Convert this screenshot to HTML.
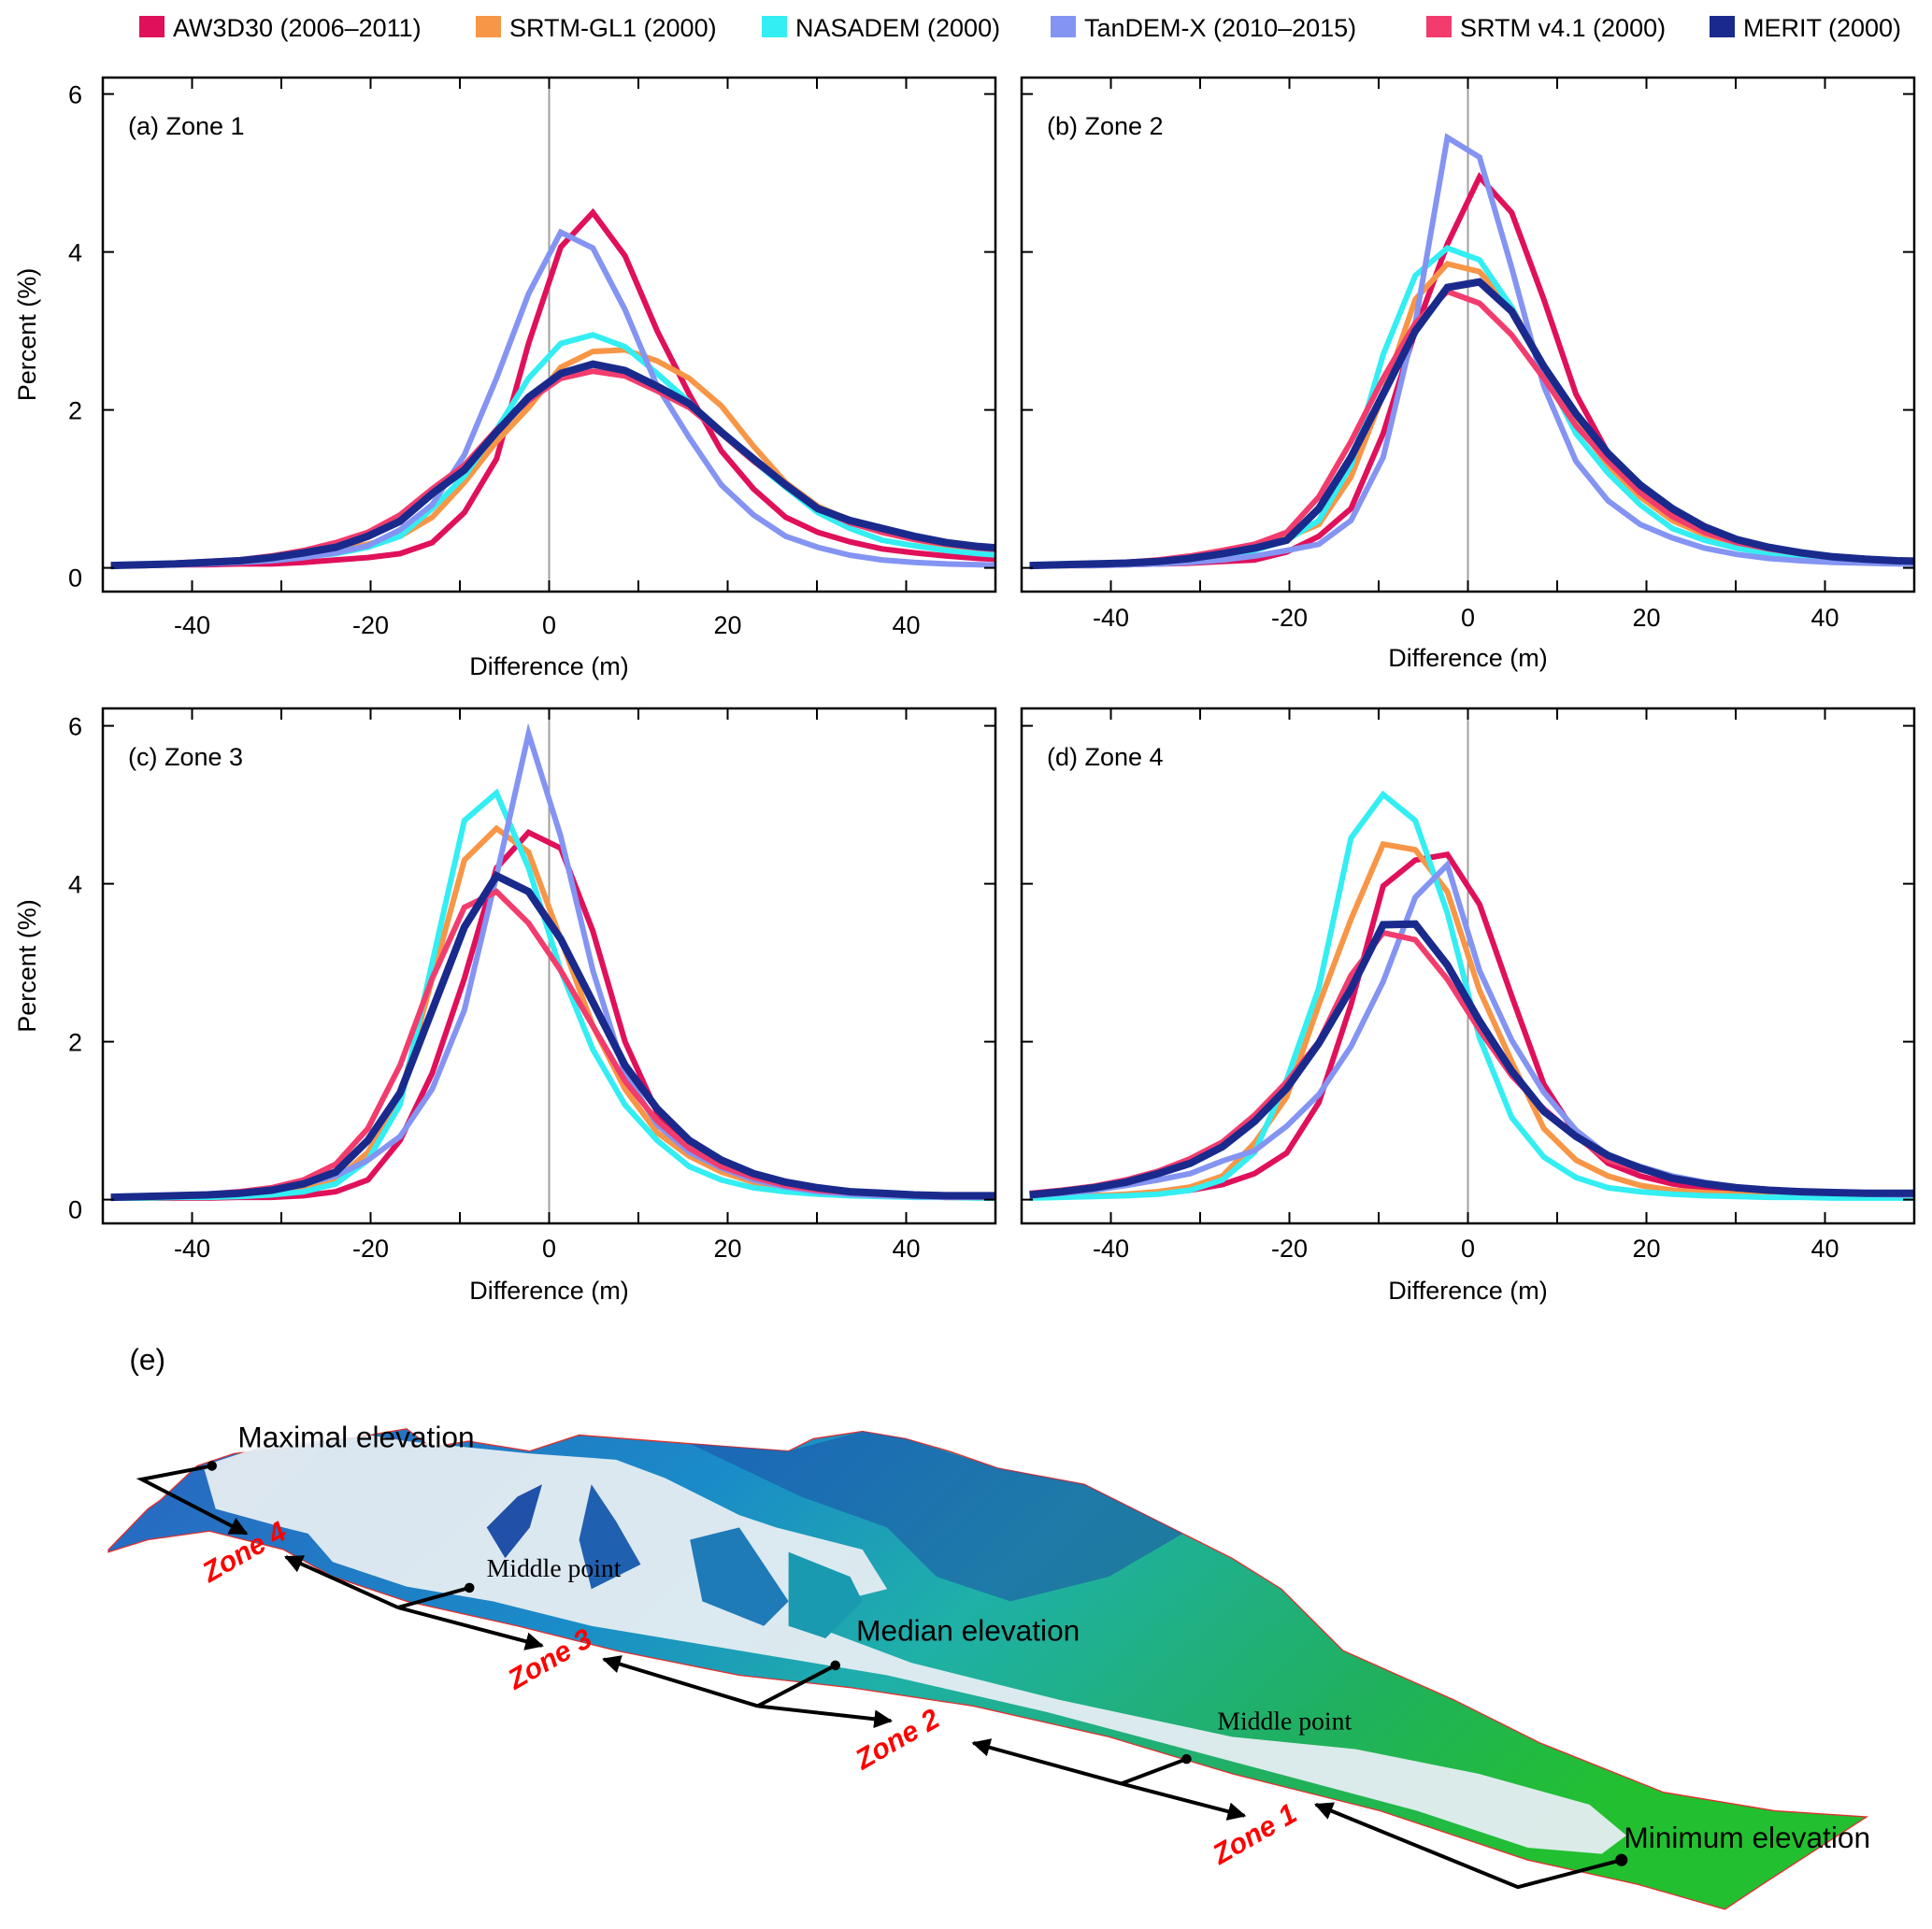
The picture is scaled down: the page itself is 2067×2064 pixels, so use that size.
<!DOCTYPE html>
<html><head><meta charset="utf-8"><style>
html,body{margin:0;padding:0;background:#fff}
svg{display:block;font-family:"Liberation Sans",sans-serif}
</style></head><body>
<svg id="fig" width="2067" height="2064" viewBox="0 0 2067 2064" xmlns="http://www.w3.org/2000/svg">
<g id="legend"></g>
<g id="charts"></g>
<g id="terrain" transform="scale(1.3182,1.318)">
  <defs>
    <linearGradient id="tg" x1="0" y1="0" x2="1" y2="0.3">
      <stop offset="0" stop-color="#2a64c0"/>
      <stop offset="0.35" stop-color="#1a8cc8"/>
      <stop offset="0.55" stop-color="#1fb0a8"/>
      <stop offset="0.8" stop-color="#20b060"/>
      <stop offset="1" stop-color="#22c030"/>
    </linearGradient>
    <marker id="ah" viewBox="0 0 10 10" refX="9" refY="5" markerWidth="5" markerHeight="5" orient="auto-start-reverse">
      <path d="M0,0 L10,5 L0,10 z" fill="#000"/>
    </marker>
  </defs>
  <text x="105" y="1112" font-size="24">(e)</text>
  <polygon fill="url(#tg)" stroke="#e03030" stroke-width="1" points="88,1258 120,1225 130,1218 160,1190 190,1180 240,1175 300,1165 330,1160 350,1175 380,1170 430,1178 470,1165 560,1172 640,1178 660,1168 700,1162 735,1168 770,1178 810,1192 880,1205 960,1245 1000,1265 1040,1290 1090,1340 1180,1380 1250,1415 1350,1455 1440,1470 1515,1475 1430,1530 1400,1550 1330,1530 1240,1510 1120,1470 1000,1440 900,1410 790,1385 690,1370 600,1360 500,1340 420,1320 330,1300 270,1280 230,1258 170,1243 120,1250 88,1260"/>
  <polygon fill="#1e4fa8" opacity="0.55" points="560,1172 640,1178 700,1162 735,1168 810,1192 880,1205 960,1245 900,1280 820,1300 760,1280 720,1240 650,1215"/>
  <polygon fill="#e6edf2" opacity="0.95" points="165,1190 210,1175 300,1165 330,1170 430,1180 500,1185 540,1200 600,1230 630,1240 700,1258 720,1290 680,1300 660,1320 740,1350 860,1380 1000,1410 1100,1420 1200,1440 1290,1465 1320,1490 1300,1505 1240,1500 1150,1470 1000,1430 850,1390 720,1360 600,1340 480,1320 400,1300 330,1288 270,1268 250,1245 230,1240 175,1225"/>
  <polygon fill="#2050a8" points="395,1240 420,1215 440,1205 430,1240 410,1265"/>
  <polygon fill="#2060b0" points="480,1205 500,1235 520,1270 480,1290 470,1250"/>
  <polygon fill="#1f7ab8" points="560,1250 600,1240 640,1300 620,1320 570,1300"/>
  <polygon fill="#1a9ab0" points="640,1260 690,1280 700,1300 670,1330 640,1320"/>
  <g stroke="#000" stroke-width="3" fill="none">
    <polyline points="172,1190 115,1201 200,1245" marker-end="url(#ah)"/>
    <line x1="323" y1="1305" x2="232" y2="1264" marker-end="url(#ah)"/><line x1="323" y1="1305" x2="440" y2="1336" marker-end="url(#ah)"/><line x1="323" y1="1305" x2="381" y2="1289"/>
    <line x1="615" y1="1385" x2="490" y2="1347" marker-end="url(#ah)"/><line x1="615" y1="1385" x2="723" y2="1397" marker-end="url(#ah)"/><line x1="615" y1="1385" x2="678" y2="1352"/>
    <line x1="910" y1="1448" x2="790" y2="1415" marker-end="url(#ah)"/><line x1="910" y1="1448" x2="1010" y2="1474" marker-end="url(#ah)"/><line x1="910" y1="1448" x2="963" y2="1428"/>
    <polyline points="1316,1510 1232,1532 1068,1465" marker-end="url(#ah)"/>
  </g>
  <g fill="#000">
    <circle cx="172" cy="1190" r="4"/><circle cx="381" cy="1289" r="4"/><circle cx="678" cy="1352" r="4"/><circle cx="963" cy="1428" r="4"/><circle cx="1316" cy="1510" r="5"/>
  </g>
  <text x="193" y="1175" font-size="24">Maximal elevation</text>
  <text x="395" y="1280" font-size="21" font-family="Liberation Serif,serif">Middle point</text>
  <text x="695" y="1332" font-size="24">Median elevation</text>
  <text x="988" y="1404" font-size="21" font-family="Liberation Serif,serif">Middle point</text>
  <text x="1318" y="1500" font-size="24">Minimum elevation</text>
  <g fill="#ff0000" font-weight="bold" font-style="italic" font-size="23">
    <text transform="translate(170,1285) rotate(-30)">Zone 4</text>
    <text transform="translate(418,1372) rotate(-30)">Zone 3</text>
    <text transform="translate(700,1437) rotate(-30)">Zone 2</text>
    <text transform="translate(990,1514) rotate(-30)">Zone 1</text>
  </g>
</g>
</svg>
<script>
const NS="http://www.w3.org/2000/svg";
const diffValues=[-49.1,-45.5,-41.9,-38.3,-34.7,-31.1,-27.5,-23.9,-20.3,-16.7,-13.1,-9.5,-5.9,-2.3,1.3,4.9,8.5,12.1,15.7,19.3,22.9,26.5,30.1,33.7,37.3,40.9,44.5,48.1,51.7];
const seriesNames=["AW3D30 (2006–2011)","SRTM-GL1 (2000)","NASADEM (2000)","TanDEM-X (2010–2015)","SRTM v4.1 (2000)","MERIT (2000)"];
const seriesKeys=["aw3d30","srtm-gl1","nasadem","tandem-x","srtm-v41","merit"];
const seriesColors=["#e0105a","#f79646","#33eef2","#8494f2","#f23c6e","#1a2a8c"];
const xTickLabels=[-40,-20,0,20,40];
const yTickLabels=[0,2,4,6];
const zoneTitles=["(a) Zone 1","(b) Zone 2","(c) Zone 3","(d) Zone 4"];
const zone1AW=[0.03,0.03,0.04,0.04,0.05,0.05,0.07,0.1,0.13,0.18,0.32,0.7,1.38,2.84,4.06,4.5,3.95,3.0,2.2,1.48,1.0,0.64,0.45,0.33,0.24,0.19,0.15,0.12,0.1];
const zone1GL1=[0.03,0.04,0.05,0.06,0.08,0.11,0.16,0.22,0.3,0.4,0.64,1.08,1.6,2.03,2.54,2.74,2.76,2.62,2.4,2.05,1.54,1.08,0.78,0.6,0.45,0.36,0.28,0.22,0.18];
const zone1NAS=[0.03,0.04,0.05,0.06,0.08,0.1,0.14,0.18,0.26,0.4,0.75,1.16,1.75,2.4,2.84,2.95,2.8,2.46,2.1,1.7,1.35,1.02,0.7,0.5,0.35,0.28,0.22,0.18,0.15];
const zone1TDX=[0.03,0.03,0.04,0.05,0.07,0.09,0.13,0.19,0.28,0.48,0.8,1.43,2.4,3.47,4.25,4.05,3.27,2.3,1.65,1.05,0.67,0.4,0.26,0.16,0.1,0.07,0.05,0.04,0.03];
const zone1V41=[0.03,0.04,0.06,0.08,0.1,0.15,0.22,0.32,0.45,0.67,1.0,1.3,1.75,2.12,2.4,2.49,2.43,2.24,2.03,1.7,1.35,1.05,0.75,0.57,0.45,0.36,0.3,0.25,0.22];
const zone1MER=[0.03,0.04,0.05,0.07,0.09,0.13,0.19,0.26,0.4,0.59,0.94,1.24,1.72,2.16,2.46,2.58,2.5,2.3,2.08,1.72,1.38,1.05,0.75,0.6,0.5,0.4,0.32,0.27,0.24];
const zone2AW=[0.03,0.03,0.03,0.04,0.05,0.06,0.08,0.1,0.2,0.4,0.75,1.7,3.0,4.1,4.95,4.5,3.4,2.2,1.45,1.0,0.7,0.5,0.35,0.25,0.18,0.13,0.1,0.08,0.07];
const zone2GL1=[0.03,0.03,0.04,0.05,0.07,0.1,0.15,0.25,0.38,0.55,1.15,2.2,3.4,3.85,3.75,3.3,2.55,1.85,1.3,0.9,0.6,0.42,0.3,0.22,0.16,0.12,0.1,0.08,0.07];
const zone2NAS=[0.03,0.03,0.04,0.05,0.06,0.09,0.13,0.22,0.35,0.6,1.3,2.7,3.7,4.05,3.9,3.3,2.5,1.7,1.2,0.8,0.5,0.35,0.25,0.18,0.13,0.1,0.08,0.07,0.06];
const zone2TDX=[0.03,0.03,0.03,0.04,0.05,0.07,0.1,0.15,0.22,0.3,0.6,1.4,3.1,5.45,5.2,3.8,2.3,1.35,0.85,0.55,0.38,0.25,0.17,0.12,0.09,0.07,0.06,0.05,0.05];
const zone2V41=[0.03,0.04,0.05,0.07,0.1,0.15,0.22,0.3,0.45,0.9,1.6,2.4,3.1,3.5,3.35,2.95,2.4,1.8,1.35,0.95,0.65,0.45,0.32,0.24,0.18,0.14,0.11,0.09,0.08];
const zone2MER=[0.03,0.04,0.05,0.06,0.08,0.12,0.18,0.25,0.35,0.75,1.4,2.2,3.0,3.55,3.62,3.25,2.55,1.95,1.45,1.05,0.75,0.52,0.36,0.26,0.19,0.14,0.11,0.09,0.08];
const zone3AW=[0.02,0.02,0.02,0.02,0.03,0.03,0.05,0.1,0.25,0.75,1.6,2.8,4.2,4.65,4.45,3.4,2.0,1.1,0.65,0.4,0.25,0.15,0.1,0.07,0.05,0.04,0.03,0.03,0.03];
const zone3GL1=[0.02,0.02,0.03,0.03,0.05,0.08,0.14,0.25,0.6,1.3,2.8,4.3,4.7,4.4,3.3,2.2,1.4,0.85,0.55,0.35,0.22,0.14,0.1,0.07,0.05,0.04,0.03,0.03,0.03];
const zone3NAS=[0.02,0.02,0.03,0.03,0.04,0.06,0.1,0.2,0.5,1.2,3.0,4.8,5.15,4.2,2.9,1.9,1.2,0.75,0.42,0.25,0.15,0.1,0.07,0.05,0.04,0.03,0.03,0.02,0.02];
const zone3TDX=[0.02,0.03,0.04,0.06,0.09,0.13,0.2,0.3,0.5,0.8,1.4,2.4,4.1,5.9,4.6,2.9,1.6,0.95,0.6,0.4,0.25,0.16,0.1,0.07,0.05,0.04,0.03,0.03,0.03];
const zone3V41=[0.03,0.04,0.05,0.07,0.1,0.15,0.25,0.45,0.9,1.7,2.8,3.7,3.9,3.5,2.9,2.2,1.5,1.0,0.65,0.42,0.28,0.18,0.12,0.09,0.07,0.05,0.04,0.04,0.04];
const zone3MER=[0.03,0.04,0.05,0.06,0.08,0.12,0.2,0.35,0.75,1.35,2.4,3.45,4.1,3.9,3.3,2.5,1.7,1.15,0.75,0.5,0.33,0.22,0.15,0.1,0.08,0.06,0.05,0.05,0.05];
const zone4AW=[0.03,0.04,0.05,0.06,0.08,0.12,0.19,0.33,0.59,1.23,2.47,3.97,4.3,4.37,3.74,2.58,1.46,0.83,0.46,0.3,0.2,0.14,0.1,0.08,0.07,0.06,0.05,0.05,0.05];
const zone4GL1=[0.03,0.04,0.05,0.07,0.1,0.16,0.3,0.72,1.3,2.47,3.55,4.5,4.43,3.9,2.65,1.75,0.9,0.5,0.3,0.18,0.12,0.09,0.07,0.06,0.05,0.04,0.04,0.04,0.04];
const zone4NAS=[0.02,0.03,0.04,0.05,0.07,0.12,0.25,0.6,1.52,2.68,4.58,5.13,4.8,3.63,2.05,1.04,0.54,0.28,0.15,0.1,0.07,0.05,0.04,0.03,0.03,0.02,0.02,0.02,0.02];
const zone4TDX=[0.05,0.08,0.12,0.18,0.25,0.33,0.49,0.62,0.93,1.33,1.94,2.76,3.83,4.24,2.9,2.02,1.36,0.88,0.56,0.42,0.3,0.22,0.16,0.12,0.1,0.08,0.07,0.06,0.06];
const zone4V41=[0.08,0.12,0.17,0.25,0.36,0.52,0.73,1.07,1.49,2.0,2.84,3.38,3.29,2.79,2.15,1.57,1.15,0.8,0.5,0.38,0.28,0.2,0.15,0.12,0.1,0.09,0.08,0.07,0.07];
const zone4MER=[0.06,0.1,0.15,0.22,0.33,0.46,0.67,0.99,1.41,1.98,2.67,3.48,3.49,2.97,2.26,1.63,1.12,0.8,0.56,0.4,0.27,0.2,0.15,0.12,0.1,0.09,0.08,0.08,0.08];
const zoneData=[[zone1AW,zone1GL1,zone1NAS,zone1TDX,zone1V41,zone1MER],[zone2AW,zone2GL1,zone2NAS,zone2TDX,zone2V41,zone2MER],[zone3AW,zone3GL1,zone3NAS,zone3TDX,zone3V41,zone3MER],[zone4AW,zone4GL1,zone4NAS,zone4TDX,zone4V41,zone4MER]];

function mk(tag,attrs,parent){const e=document.createElementNS(NS,tag);for(const k in attrs)e.setAttribute(k,attrs[k]);parent.appendChild(e);return e;}

const lg=document.getElementById('legend');
const legX=[149,509,815,1124,1526,1829];
seriesNames.forEach((n,i)=>{
  const g=mk('g',{},lg);
  
  
  mk('rect',{x:legX[i],y:17,width:27,height:23,fill:seriesColors[i]},g);
  const t=mk('text',{x:legX[i]+36,y:39,'font-size':27,fill:'#000'},g);
  t.textContent=n;
});

const panels=[
 {x0:110,x1:1065,yt:83,yb:633,y0:607.6,lx:668,tx:712,ylab:true},
 {x0:1093,x1:2048,yt:83,yb:633,y0:607.6,lx:660,tx:703,ylab:false},
 {x0:110,x1:1065,yt:758,yb:1309,y0:1283.6,lx:1335,tx:1380,ylab:true},
 {x0:1093,x1:2048,yt:758,yb:1309,y0:1283.6,lx:1335,tx:1380,ylab:false}];
const charts=document.getElementById('charts');
const defs=mk('defs',{},charts);
panels.forEach((p,pi)=>{
  const xs=v=>p.x0+(v+50)/100*(p.x1-p.x0);
  const ys=v=>p.y0-v*84.5;
  const g=mk('g',{},charts);
  
  
  const cp=mk('clipPath',{id:'cp'+pi},defs);
  mk('rect',{x:p.x0,y:p.yt,width:p.x1-p.x0,height:p.yb-p.yt},cp);
  const zl=mk('line',{x1:xs(0),x2:xs(0),y1:p.yt,y2:p.yb,stroke:'#a0a0a0','stroke-width':2},g);
  
  
  const lines=mk('g',{'clip-path':'url(#cp'+pi+')'},g);
  zoneData[pi].forEach((vals,si)=>{
    const d=vals.map((v,i)=>(i?'L':'M')+xs(diffValues[i]).toFixed(1)+' '+ys(v).toFixed(1)).join(' ');
    const pth=mk('path',{d:d,fill:'none',stroke:seriesColors[si],'stroke-width':si==5?8:6,'stroke-linejoin':'miter'},lines);
    
    
  });
  const fr=mk('rect',{x:p.x0,y:p.yt,width:p.x1-p.x0,height:p.yb-p.yt,fill:'none',stroke:'#000','stroke-width':2.5},g);
  
  
  for(let v=-40;v<=40;v+=10){
    mk('line',{x1:xs(v),x2:xs(v),y1:p.yb,y2:p.yb-12,stroke:'#000','stroke-width':2},g);
    mk('line',{x1:xs(v),x2:xs(v),y1:p.yt,y2:p.yt+12,stroke:'#000','stroke-width':2},g);
  }
  xTickLabels.forEach(v=>{
    const t=mk('text',{x:xs(v),y:p.lx+10,'font-size':27,'text-anchor':'middle'},g);
    
    
    t.textContent=v;
  });
  yTickLabels.forEach(v=>{
    mk('line',{x1:p.x0,x2:p.x0+12,y1:ys(v),y2:ys(v),stroke:'#000','stroke-width':2},g);
    mk('line',{x1:p.x1,x2:p.x1-12,y1:ys(v),y2:ys(v),stroke:'#000','stroke-width':2},g);
    if(p.ylab){
      const t=mk('text',{x:p.x0-22,y:ys(v)+(v===0?20:10),'font-size':27,'text-anchor':'end'},g);
      
      
      t.textContent=v;
    }
  });
  const xt=mk('text',{x:(p.x0+p.x1)/2,y:p.tx+10,'font-size':27,'text-anchor':'middle'},g);
  
  
  xt.textContent='Difference (m)';
  if(p.ylab){
    const cy=(p.yt+p.yb)/2;
    const yt=mk('text',{x:38,y:cy,'font-size':27,'text-anchor':'middle',transform:'rotate(-90 38 '+cy+')'},g);
    
    
    yt.textContent='Percent (%)';
  }
  const tl=mk('text',{x:p.x0+27,y:p.yt+61,'font-size':27},g);
  
  
  tl.textContent=zoneTitles[pi];
});
</script>
</body></html>
